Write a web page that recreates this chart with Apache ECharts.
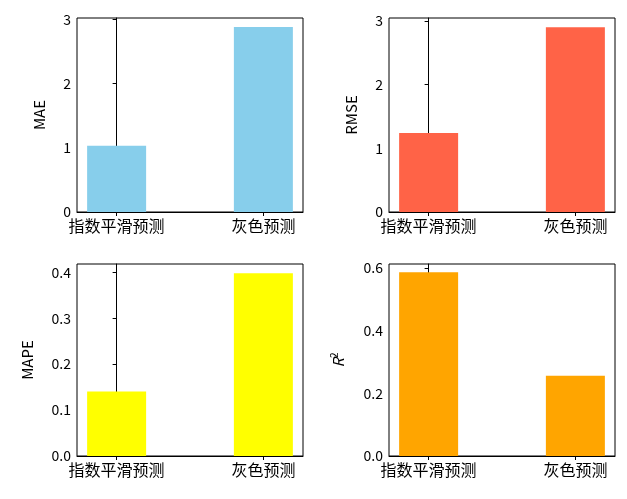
<!DOCTYPE html><html><head><meta charset="utf-8"><script src="https://cdn.jsdelivr.net/npm/echarts@6/dist/echarts.min.js"></script></head><body style="margin:0"><div id="c" style="width:627px;height:499px"></div><script>
const categories=['指数平滑预测','灰色预测'];
const mae=[1.03,2.88];
const rmse=[1.24,2.90];
const mape=[0.1405,0.398];
const r2=[0.587,0.256];
const ch=echarts.init(document.getElementById('c'));
const F='"Noto Sans CJK SC", sans-serif';
const grids=[{left:77,top:18,width:226,height:194},{left:389,top:18,width:226,height:194},{left:77,top:264,width:226,height:192},{left:389,top:264,width:226,height:192}];
const metrics=[{d:mae,n:'MAE',c:'#87CEEB',max:3.02,iv:1},{d:rmse,n:'RMSE',c:'#FF6347',max:3.045,iv:1},{d:mape,n:'MAPE',c:'#FFFF00',max:0.418,iv:0.1},{d:r2,n:'R{s|2}',c:'#FFA500',max:0.613,iv:0.2}];
const line={show:true,lineStyle:{color:'#000',width:1}};
ch.setOption({animation:false,
grid:grids.map(g=>Object.assign({show:true,borderColor:'#000',borderWidth:1,containLabel:false},g)),
xAxis:metrics.map((m,i)=>({type:'value',gridIndex:i,min:-0.27,max:1.27,splitLine:{show:false},axisLine:line,
 axisTick:{show:true,length:4,lineStyle:{color:'#000'},customValues:[0,1]},
 axisLabel:{customValues:[0,1],formatter:v=>categories[Math.round(v)],color:'#000',fontSize:16,fontFamily:F,margin:6}})),
yAxis:metrics.map((m,i)=>({type:'value',gridIndex:i,min:0,max:m.max,interval:m.iv,splitLine:{show:false},axisLine:line,
 axisTick:{show:true,length:4,lineStyle:{color:'#000'}},
 axisLabel:{color:'#000',fontSize:14,fontFamily:F,margin:6,formatter:v=>(v>m.max?'':(m.iv<1?v.toFixed(1):String(v)))},
 name:m.n,nameLocation:'middle',nameGap:i==1?30:(i==2||i==3?42:30),
 nameTextStyle:{color:'#000',fontSize:15,fontFamily:F,fontStyle:i==3?'italic':'normal',rich:{s:{fontSize:10,verticalAlign:'top',padding:[0,0,8,0],fontStyle:'normal'}}}})),
series:metrics.map((m,i)=>({type:'bar',xAxisIndex:i,yAxisIndex:i,barWidth:59,itemStyle:{color:m.c},data:m.d.map((v,j)=>[j,v])}))
});
</script></body></html>
